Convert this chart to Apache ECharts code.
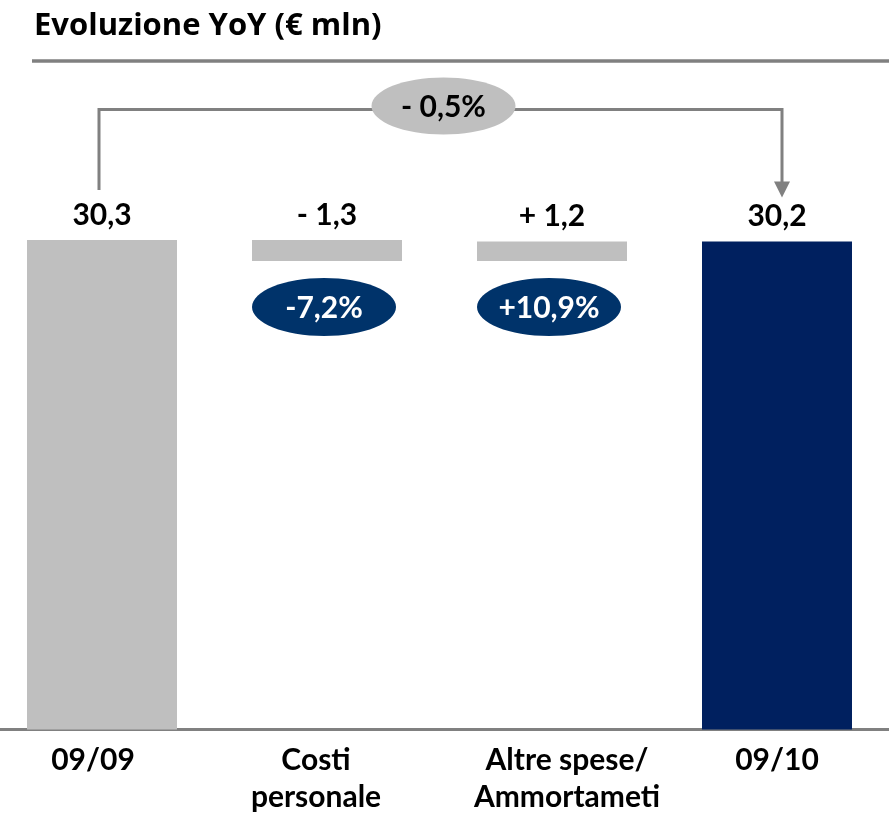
<!DOCTYPE html>
<html>
<head>
<meta charset="utf-8">
<script src="https://cdn.jsdelivr.net/npm/echarts@6/dist/echarts.min.js"></script>
<style>
    html, body { margin: 0; padding: 0; background: #fff; }
    #chartBox { width: 889px; height: 819px; }
</style>
</head>
<body>
<div id="chartBox"></div>
<script>
// dati
const categories = ['09/09', 'Costi\npersonale', 'Altre spese/\nAmmortameti', '09/10'];
const startValue = 30.3;
const deltas = [-1.3, 1.2];
const endValue = 30.2;
const pctLabels = ['', '-7,2%', '+10,9%', ''];
const totalChange = '- 0,5%';

const FONT = 'Lato, "Open Sans", sans-serif';
const GREY = '#BFBFBF';
const NAVY_BAR = '#00205F';
const NAVY_ELL = '#00336A';

// basi e altezze del waterfall
const baseData = [0];
const barData = [startValue];
const valueLabels = [startValue.toFixed(1).replace('.', ',')];
let running = startValue;
deltas.forEach(d => {
    if (d < 0) {
        baseData.push(running + d);
        barData.push(-d);
    } else {
        baseData.push(running);
        barData.push(d);
    }
    valueLabels.push((d < 0 ? '- ' : '+ ') + Math.abs(d).toFixed(1).replace('.', ','));
    running += d;
});
baseData.push(0);
barData.push(endValue);
valueLabels.push(endValue.toFixed(1).replace('.', ','));

const labelShift = [-9, -11, 15, 0];

const chartDom = document.getElementById('chartBox');
const myChart = echarts.init(chartDom);

const option = {
    animation: false,
    title: {
        text: 'Evoluzione YoY (€ mln)',
        left: 29,
        top: 6,
        textStyle: { fontFamily: '"Open Sans", sans-serif', fontWeight: 'bold', fontSize: 31, color: '#000' }
    },
    grid: { left: -10.5, width: 900, top: 164, bottom: 89.5, outerBoundsMode: 'none', containLabel: false },
    xAxis: {
        type: 'category',
        data: categories.map((c, i) => ({
            value: c,
            textStyle: {
                padding: labelShift[i] < 0 ? [0, -2 * labelShift[i], 0, 0] : [0, 0, 0, 2 * labelShift[i]]
            }
        })),
        axisLine: { lineStyle: { color: '#808080', width: 3 } },
        axisTick: { show: false },
        axisLabel: {
            interval: 0,
            margin: 12,
            fontFamily: FONT,
            fontWeight: 'bold',
            fontSize: 30,
            lineHeight: 37,
            color: '#000'
        }
    },
    yAxis: { type: 'value', min: 0, max: 35, show: false },
    series: [
        {
            type: 'bar',
            stack: 'wf',
            barWidth: 150,
            itemStyle: { color: 'transparent' },
            data: baseData,
            silent: true
        },
        {
            type: 'bar',
            stack: 'wf',
            barWidth: 150,
            data: barData.map((v, i) => ({
                value: v,
                itemStyle: { color: i === barData.length - 1 ? NAVY_BAR : GREY }
            })),
            label: {
                show: true,
                position: 'top',
                distance: 10,
                fontFamily: FONT,
                fontWeight: 'bold',
                fontSize: 30,
                color: '#000',
                formatter: p => valueLabels[p.dataIndex]
            }
        }
    ]
};
myChart.setOption(option);

// annotazioni: connettore, ellissi
function drawAnnotations() {
    const toPx = (i, v) => myChart.convertToPixel({ xAxisIndex: 0, yAxisIndex: 0 }, [i, v]);
    const last = categories.length - 1;
    const pStart = toPx(0, startValue);
    const pEnd = toPx(last, endValue);
    const xL = pStart[0] - 3;
    const xR = pEnd[0] + 5;
    const yTop = 109.5;
    const graphics = [];

    // linea sotto il titolo
    graphics.push({
        type: 'line',
        shape: { x1: 32, y1: 61, x2: 889, y2: 61 },
        style: { stroke: '#808080', lineWidth: 3.5 }
    });
    // connettore
    graphics.push({
        type: 'polyline',
        shape: { points: [[xL, pStart[1] - 50], [xL, yTop], [xR, yTop], [xR, pEnd[1] - 58]] },
        style: { stroke: '#808080', lineWidth: 3, fill: null }
    });
    graphics.push({
        type: 'polygon',
        shape: { points: [[xR - 8, pEnd[1] - 60], [xR + 8, pEnd[1] - 60], [xR, pEnd[1] - 44]] },
        style: { fill: '#808080' }
    });
    const cxMid = (xL + xR) / 2 + 3;
    graphics.push({
        type: 'ellipse',
        shape: { cx: cxMid, cy: 106, rx: 72, ry: 28.5 },
        style: { fill: GREY }
    });
    graphics.push({
        type: 'text',
        style: {
            text: totalChange, x: cxMid, y: 107,
            textAlign: 'center', textVerticalAlign: 'middle', align: 'center', verticalAlign: 'middle',
            font: 'bold 30px ' + FONT, fill: '#000'
        }
    });
    // ellissi percentuali
    pctLabels.forEach((t, i) => {
        if (!t) return;
        const top = toPx(i, baseData[i]);
        const cx = top[0] - 3;
        const cy = top[1] + 46;
        graphics.push({
            type: 'ellipse',
            shape: { cx: cx, cy: cy, rx: 72, ry: 29 },
            style: { fill: NAVY_ELL }
        });
        graphics.push({
            type: 'text',
            style: {
                text: t, x: cx, y: cy + 1,
                textAlign: 'center', textVerticalAlign: 'middle', align: 'center', verticalAlign: 'middle',
                font: 'bold 30px ' + FONT, fill: '#fff'
            }
        });
    });
    myChart.setOption({ graphic: graphics });
}
drawAnnotations();
</script>
</body>
</html>
